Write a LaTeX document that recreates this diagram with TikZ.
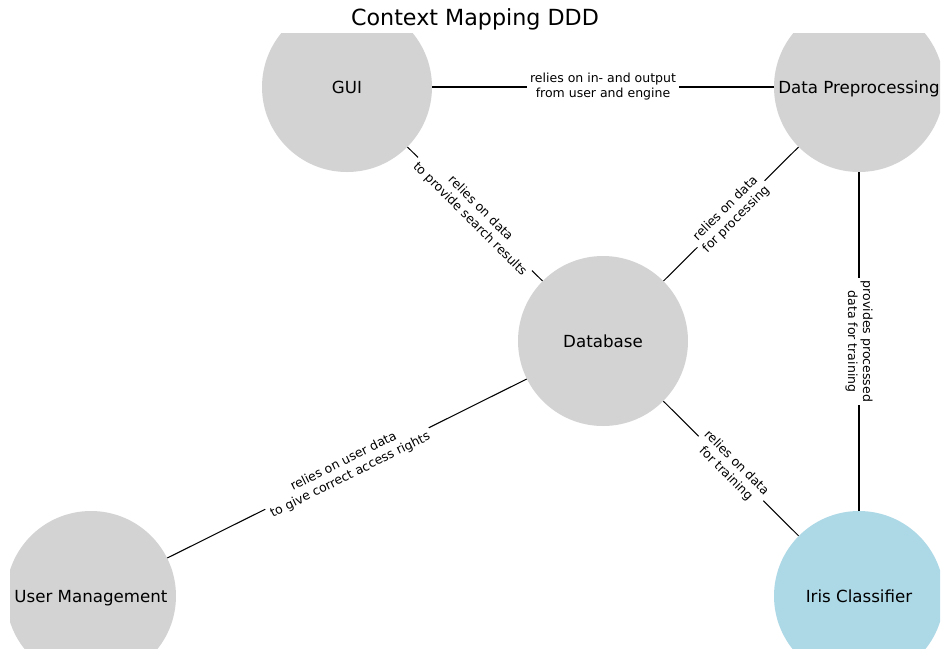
\documentclass[tikz,border=0pt]{standalone}
\usepackage{fontspec}
\setmainfont{DejaVu Sans}
\definecolor{ctxgray}{HTML}{D3D3D3}
\definecolor{ctxblue}{HTML}{ADD8E6}
\tikzset{
  ctx/.style={circle, fill=ctxgray, draw=none, inner sep=0pt, minimum size=122.4pt, font=\fontsize{12}{14}\selectfont, text=black, text depth=0pt},
  ctxhl/.style={ctx, fill=ctxblue},
  elabel/.style={fill=white, inner sep=2pt, align=center, font=\fontsize{9}{10.8}\selectfont, text=black},
  edge/.style={draw=black, line width=0.75pt}
}
\begin{document}
\begin{tikzpicture}[x=0.72pt, y=-0.72pt]
\useasboundingbox (0,0) rectangle (950,660);
\node[font=\fontsize{16}{19}\selectfont] (title) at (475,19) {Context Mapping DDD};
\begin{scope}
  \clip (10,33) rectangle (940,648);
  \node[ctx] (gui) at (347,87) {GUI};
  \node[ctx] (dp) at (859,87) {Data Preprocessing};
  \node[ctx] (db) at (603,341) {Database};
  \node[ctx] (um) at (91,596) {User Management};
  \node[ctxhl] (iris) at (859,596) {Iris Classifier};
\end{scope}
\draw[edge] (gui) -- node[elabel] {relies on in- and output\\from user and engine} (dp);
\draw[edge] (gui) -- node[elabel, rotate=-45] {relies on data\\to provide search results} (db);
\draw[edge] (dp) -- node[elabel, rotate=45] {relies on data\\for processing} (db);
\draw[edge] (dp) -- node[elabel, rotate=-90] {provides processed\\data for training} (iris);
\draw[edge] (db) -- node[elabel, rotate=26.48] {relies on user data\\to give correct access rights} (um);
\draw[edge] (db) -- node[elabel, rotate=-45] {relies on data\\for training} (iris);
\end{tikzpicture}
\end{document}
